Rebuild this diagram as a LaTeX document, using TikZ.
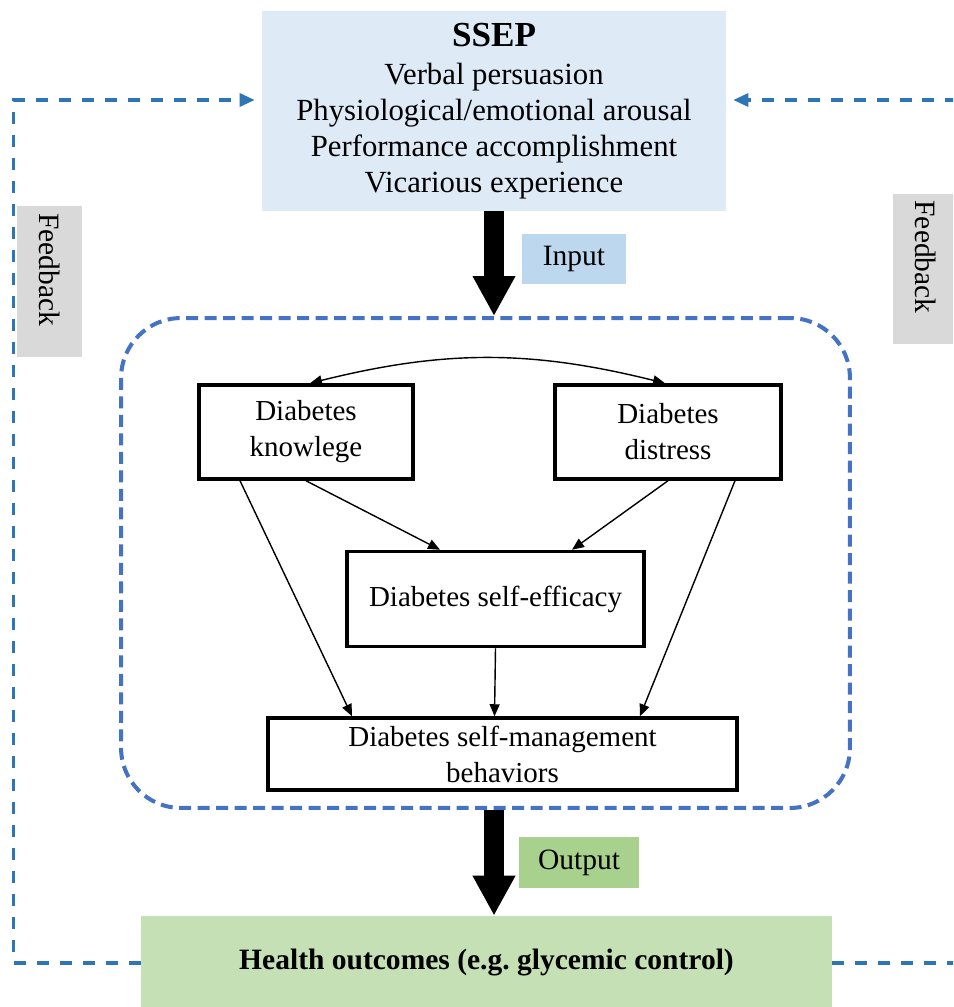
\documentclass[tikz,border=0pt]{standalone}
\usepackage{fontspec}
\setmainfont{Liberation Serif}
\usetikzlibrary{arrows.meta}

\definecolor{azulcaja}{HTML}{DEEBF7}
\definecolor{azulinput}{HTML}{BDD7EE}
\definecolor{verdesalida}{HTML}{A9D18E}
\definecolor{verdecaja}{HTML}{C5E0B4}
\definecolor{grisfb}{HTML}{D9D9D9}
\definecolor{azulmarco}{HTML}{4472C4}
\definecolor{azullinea}{HTML}{2E75B6}

\tikzset{
    caja/.style={draw, line width=2pt, align=center, inner sep=1pt, font=\fontsize{16.5}{20.5}\selectfont},
    etiqueta/.style={align=center, inner sep=0pt, font=\fontsize{16.8}{20}\selectfont},
    flecha/.style={-{Triangle[length=0.24cm,width=0.2cm]}, line width=0.8pt},
    flechagorda/.style={-{Triangle[length=0.8cm,width=0.8cm]}, line width=0.4cm},
    retro/.style={azullinea, line width=1.8pt, dash pattern=on 0.24cm off 0.22cm,
        -{Triangle[length=0.3cm,width=0.26cm]}, shorten >=0.14cm},
    fb/.style={fill=grisfb, rotate=-90, minimum height=1.3cm, text width=2.74cm,
        align=left, inner xsep=0.14cm, inner ysep=0pt, font=\fontsize{16.8}{20}\selectfont},
}

\begin{document}
\begin{tikzpicture}[x=0.02cm, y=-0.02cm]
    \clip (0,0) rectangle (953,1007);

    % Caja SSEP
    \node[fill=azulcaja, minimum width=9.28cm, minimum height=4cm, align=center,
        font=\fontsize{17.5}{20.6}\selectfont] (ssep) at (494,111)
        {{\fontsize{20}{20.6}\selectfont\bfseries SSEP}\\[1pt] Verbal persuasion\\
        Physiological/emotional arousal\\ Performance accomplishment\\ Vicarious experience};

    % Marco discontinuo
    \node[draw=azulmarco, line width=2.3pt, dash pattern=on 0.24cm off 0.13cm,
        rounded corners=1.2cm, minimum width=14.58cm, minimum height=9.8cm] (marco) at (485.5,563) {};

    % Cajas internas
    \node[caja, minimum width=4.28cm, minimum height=1.88cm] (conoc) at (306,432) {Diabetes\\ knowlege};
    \node[caja, minimum width=4.52cm, minimum height=1.88cm] (estres) at (668,432) {Diabetes\\ distress};
    \node[caja, minimum width=5.94cm, minimum height=1.9cm] (eficacia) at (495.5,599) {Diabetes self-efficacy};
    \node[caja, minimum width=9.38cm, minimum height=1.44cm] (manejo) at (502.5,754) {Diabetes self-management\\ behaviors};

    % Resultado
    \node[fill=verdecaja, minimum width=13.82cm, minimum height=1.88cm, etiqueta,
        font=\fontsize{16.8}{20}\selectfont\bfseries] (salud) at (486.5,963) {Health outcomes (e.g.\ glycemic control)};

    % Etiquetas
    \node[fill=azulinput, minimum width=2.08cm, minimum height=1cm, etiqueta] (entrada) at (574,259) {Input};
    \node[fill=verdesalida, minimum width=2.4cm, minimum height=1.02cm, etiqueta] (salida) at (579,862.5) {Output};
    \node[fb] (fbizq) at (49.5,281.5) {Feedback};
    \node[fb] (fbder) at (925.5,269) {Feedback};

    % Flechas gruesas
    \draw[flechagorda] (ssep.south) -- (ssep.south |- marco.north);
    \draw[flechagorda] (marco.south -| ssep.south) -- (salud.north -| ssep.south);

    % Relaciones
    \draw[flecha, {Triangle[length=0.24cm,width=0.2cm]}-{Triangle[length=0.24cm,width=0.2cm]}]
        ([xshift=0.08cm]conoc.north) to[bend left=14] ([xshift=-0.06cm]estres.north);
    \draw[flecha] ([xshift=-1.32cm]conoc.south) -- ([xshift=-3.01cm]manejo.north);
    \draw[flecha] (conoc.south) -- ([xshift=-1.11cm]eficacia.north);
    \draw[flecha] (estres.south) -- ([xshift=1.53cm]eficacia.north);
    \draw[flecha] ([xshift=1.34cm]estres.south) -- ([xshift=2.75cm]manejo.north);
    \draw[flecha] (eficacia.south) -- ([xshift=-0.16cm]manejo.north);

    % Retroalimentacion
    \draw[retro] (salud.west) -- ++(-127,0) |- ([yshift=0.22cm]ssep.west);
    \draw[retro] (salud.east) -- ++(160,0) |- ([yshift=0.22cm]ssep.east);
\end{tikzpicture}
\end{document}
